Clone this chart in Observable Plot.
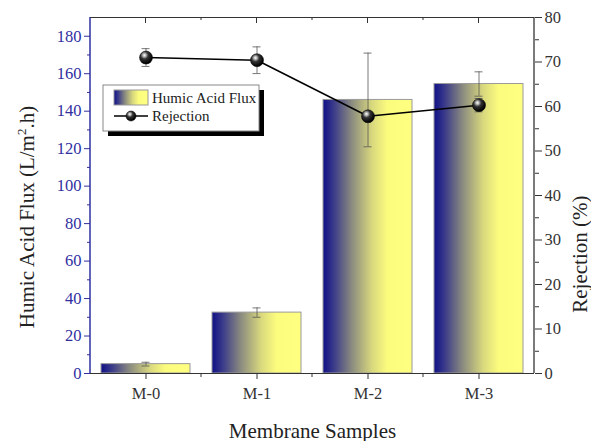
<!DOCTYPE html>
<html>
<head>
<meta charset="utf-8">
<script src="https://cdn.jsdelivr.net/npm/d3@7"></script>
<script src="https://cdn.jsdelivr.net/npm/@observablehq/plot@0.6"></script>
<style>
html,body{margin:0;padding:0;background:#fff;}
#chart svg{display:block;}
#chart svg text{font-family:'Liberation Serif','Times New Roman',serif;}
</style>
</head>
<body>
<div id="chart"></div>
<script>
const samples = ["M-0", "M-1", "M-2", "M-3"];
const flux = [5, 32.5, 146, 154.5];
const fluxErr = [1, 2.5, 25, 6.5];
const rejection = [71.0, 70.4, 57.8, 60.3];
const rejErr = [2.0, 3.0, 0.8, 1.5];
const fluxTicks = [0, 20, 40, 60, 80, 100, 120, 140, 160, 180];
const fluxMinor = [10, 30, 50, 70, 90, 110, 130, 150, 170];
const rejTicks = [0, 10, 20, 30, 40, 50, 60, 70, 80];
const rejMinor = [5, 15, 25, 35, 45, 55, 65, 75];
const fluxMax = 190, rejMax = 80;
const k = fluxMax / rejMax; // rejection -> flux units

const data = samples.map((s, i) => ({
  s, flux: flux[i], fe: fluxErr[i],
  rej: rejection[i] * k, re: rejErr[i] * k
}));

const W = 591, H = 441;
const mL = 90, mR = 57, mT = 17, mB = 68;
const blue = "#2f2f9f";
const font = "'Liberation Serif', 'Times New Roman', serif";

const defs = () => {
  const d = d3.create("svg:defs");
  const g = d.append("linearGradient").attr("id", "barGrad").attr("x1", 0).attr("x2", 1).attr("y1", 0).attr("y2", 0);
  [[0, "#101087"], [0.12, "#3a3a8a"], [0.32, "#8a8a80"], [0.55, "#d8d87e"], [0.72, "#fbfb7e"], [1, "#ffff80"]]
    .forEach(([o, c]) => g.append("stop").attr("offset", o).attr("stop-color", c));
  const r = d.append("radialGradient").attr("id", "ball").attr("cx", 0.38).attr("cy", 0.32).attr("r", 0.65);
  [[0, "#ffffff"], [0.18, "#bbbbbb"], [0.45, "#333333"], [1, "#000000"]]
    .forEach(([o, c]) => r.append("stop").attr("offset", o).attr("stop-color", c));
  return d.node();
};

// frame side lines, top ticks (inward) and minor ticks at category boundaries
const frameTicks = (index, scales, values, dims) => {
  const x = scales.x;
  const g = d3.create("svg:g").attr("stroke", "#333").attr("stroke-width", 1);
  const bw = x.bandwidth ? x.bandwidth() : 0.8 * (x(samples[1]) - x(samples[0]));
  const top = dims.marginTop, bot = dims.height - dims.marginBottom;
  const left = dims.marginLeft, right = dims.width - dims.marginRight;
  g.append("line").attr("x1", left).attr("x2", left).attr("y1", top).attr("y2", bot).attr("stroke", blue).attr("stroke-width", 1.5);
  g.append("line").attr("x1", right).attr("x2", right).attr("y1", top).attr("y2", bot).attr("stroke-width", 1.3);
  samples.forEach((s, i) => {
    const c = x(s) + bw / 2;
    g.append("line").attr("x1", c).attr("x2", c).attr("y1", top).attr("y2", top + 6);
    if (i < samples.length - 1) {
      const b = (x(s) + bw + x(samples[i + 1])) / 2;
      g.append("line").attr("x1", b).attr("x2", b).attr("y1", top).attr("y2", top + 3);
      g.append("line").attr("x1", b).attr("x2", b).attr("y1", bot).attr("y2", bot + 4);
    }
  });
  return g.node();
};

const legend = (index, scales, values, dims) => {
  const g = d3.create("svg:g").attr("font-family", font).attr("font-size", 15).attr("fill", "#222").attr("text-anchor", "start");
  const x0 = dims.marginLeft + 13, y0 = 85, w = 156, h = 46;
  g.append("rect").attr("x", x0 + 5).attr("y", y0 + 5).attr("width", w).attr("height", h).attr("fill", "#000");
  g.append("rect").attr("x", x0).attr("y", y0).attr("width", w).attr("height", h).attr("fill", "#fff").attr("stroke", "#888").attr("stroke-width", 1);
  g.append("rect").attr("x", x0 + 11).attr("y", y0 + 5).attr("width", 34).attr("height", 15).attr("fill", "url(#barGrad)").attr("stroke", "#999");
  g.append("text").attr("x", x0 + 49).attr("y", y0 + 18).text("Humic Acid Flux");
  g.append("line").attr("x1", x0 + 11).attr("x2", x0 + 45).attr("y1", y0 + 31).attr("y2", y0 + 31).attr("stroke", "#000").attr("stroke-width", 1.5);
  g.append("circle").attr("cx", x0 + 28).attr("cy", y0 + 31).attr("r", 5).attr("fill", "url(#ball)").attr("stroke", "#000").attr("stroke-width", 0.5);
  g.append("text").attr("x", x0 + 49).attr("y", y0 + 36).text("Rejection");
  return g.node();
};

const chart = Plot.plot({
  width: W, height: H,
  marginLeft: mL, marginRight: mR, marginTop: mT, marginBottom: mB,
  style: {fontFamily: font, fontSize: "15px", background: "#fff", overflow: "visible"},
  x: {domain: samples, paddingInner: 0.2, paddingOuter: 0.1, label: null, axis: null},
  y: {domain: [0, fluxMax], label: null, axis: null},
  marks: [
    defs,
    Plot.barY(data, {x: "s", y: "flux", fill: "url(#barGrad)", stroke: "#9a9a9a", strokeWidth: 1}),
    Plot.ruleX(data, {x: "s", y1: d => d.flux - d.fe, y2: d => d.flux + d.fe, stroke: "#555", strokeWidth: 0.8}),
    Plot.tickY(data, {x: "s", y: d => d.flux - d.fe, stroke: "#555", strokeWidth: 0.8, insetLeft: 40.5, insetRight: 40.5}),
    Plot.tickY(data, {x: "s", y: d => d.flux + d.fe, stroke: "#555", strokeWidth: 0.8, insetLeft: 40.5, insetRight: 40.5}),
    Plot.ruleX(data, {x: "s", y1: d => d.rej - d.re, y2: d => d.rej + d.re, stroke: "#555", strokeWidth: 0.8}),
    Plot.tickY(data, {x: "s", y: d => d.rej - d.re, stroke: "#555", strokeWidth: 0.8, insetLeft: 40.5, insetRight: 40.5}),
    Plot.tickY(data, {x: "s", y: d => d.rej + d.re, stroke: "#555", strokeWidth: 0.8, insetLeft: 40.5, insetRight: 40.5}),
    Plot.line(data, {x: "s", y: "rej", stroke: "#000", strokeWidth: 1.5}),
    Plot.dot(data, {x: "s", y: "rej", r: 6.5, fill: "url(#ball)", stroke: "#000", strokeWidth: 0.5}),
    Plot.ruleY([fluxMax], {stroke: "#333", strokeWidth: 1.2}),
    Plot.ruleY([0], {stroke: "#333", strokeWidth: 1.2}),
    Plot.axisY({anchor: "left", ticks: fluxTicks, tickSize: 6, tickPadding: 3, color: blue, fontSize: 16.5, fontFamily: font, label: null}),
    Plot.axisY({anchor: "left", ticks: fluxMinor, tickSize: 3, text: null, color: blue, label: null}),
    Plot.axisY({anchor: "right", ticks: rejTicks.map(v => v * k), tickFormat: d => Math.round(d / k), tickSize: 7, tickPadding: 3, color: "#333", fontSize: 16.5, fontFamily: font, label: null}),
    Plot.axisY({anchor: "right", ticks: rejMinor.map(v => v * k), tickSize: 4, text: null, color: "#333", label: null}),
    Plot.axisX({anchor: "bottom", tickSize: 6, tickPadding: 8, color: "#333", fontSize: 16.5, fontFamily: font, label: null}),
    frameTicks,
    legend,
    Plot.text(["Membrane Samples"], {frameAnchor: "bottom", dy: 64, fontSize: 21, fontFamily: font, fill: "#222"}),
    Plot.text(["Rejection (%)"], {frameAnchor: "right", dx: 46, rotate: -90, fontSize: 21, fontFamily: font, fill: "#222"})
  ]
});

// left axis title with superscript
const svg = d3.select(chart);
const t = svg.append("text").attr("transform", `translate(34,${(mT + H - mB) / 2 + 22}) rotate(-90)`)
  .attr("text-anchor", "middle").attr("font-family", font).attr("font-size", 21).attr("fill", "#222");
t.append("tspan").text("Humic Acid Flux (L/m");
t.append("tspan").attr("dy", -8).attr("font-size", 13).text("2");
t.append("tspan").attr("dy", 8).text(".h)");

document.getElementById("chart").append(chart);
</script>
</body>
</html>
